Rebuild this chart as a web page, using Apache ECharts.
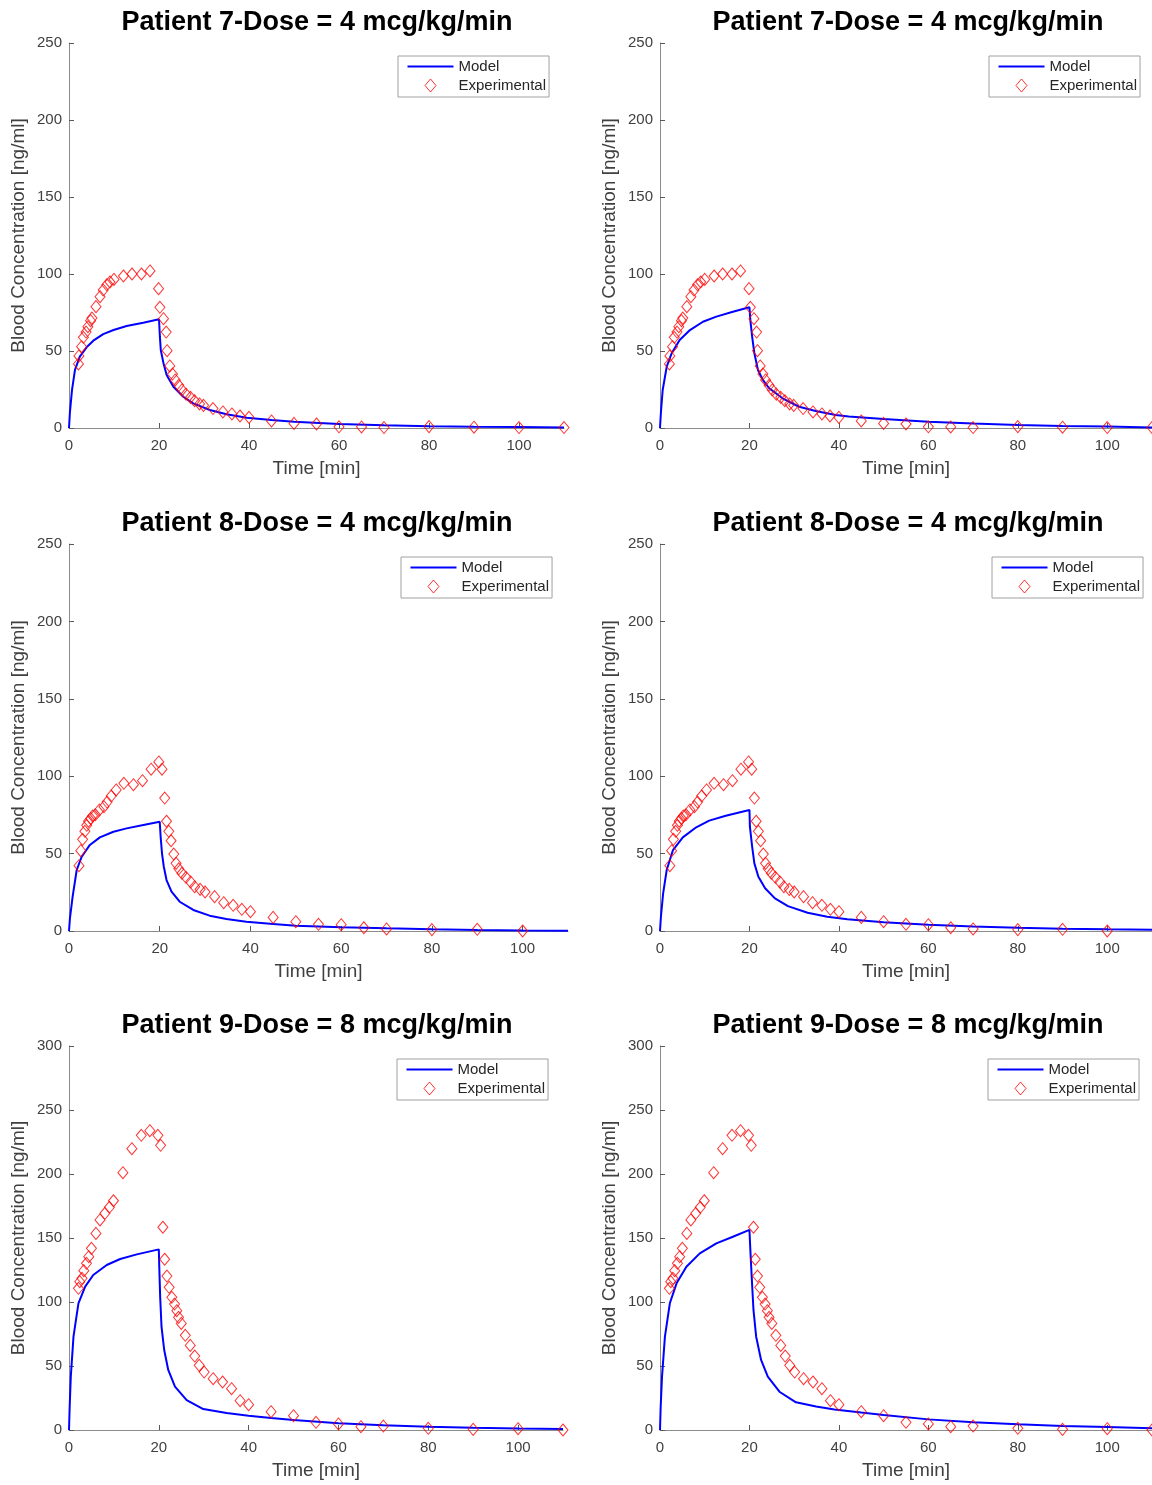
<!DOCTYPE html>
<html>
<head>
<meta charset="utf-8">
<title>Patient blood concentration</title>
<script src="https://cdn.jsdelivr.net/npm/echarts@6/dist/echarts.min.js"></script>
<style>
    html, body { margin: 0; padding: 0; background: #fff; }
    #box { width: 1152px; height: 1485px; }
</style>
</head>
<body>
<div id="box"></div>
<script>
// experimental samples (same for both columns of a row)
var p7Time = [2.1, 2.2, 2.8, 3.2, 3.8, 4.2, 4.8, 5.1, 6.0, 6.9, 7.6, 8.4, 9.1, 10.0, 12.1, 14.0, 16.1, 18.0, 19.9, 20.2, 21.0, 21.6, 21.8, 22.4, 23.0, 23.6, 24.4, 25.1, 26.0, 27.0, 27.9, 29.0, 29.9, 32.0, 34.2, 36.2, 38.0, 40.0, 45, 50, 55, 60, 65, 70, 80, 90, 100, 110];
var p7Conc = [41.6, 46.8, 52.8, 58.9, 62.3, 65.8, 69.7, 71.4, 78.8, 85.3, 89.6, 93.0, 94.8, 96.5, 98.7, 100, 100, 102, 90.5, 78.4, 71.0, 62.3, 50.2, 40.3, 35.0, 31.2, 27.7, 24.7, 22.0, 19.9, 17.7, 15.6, 14.7, 12.6, 10.4, 9.1, 7.8, 6.9, 4.6, 3.0, 2.6, 0.8, 0.7, 0.3, 0.9, 0.5, 0.3, 0.3];

var p8Time = [2.2, 2.6, 3.0, 3.5, 3.9, 4.3, 4.8, 5.2, 5.8, 6.7, 7.7, 8.4, 9.3, 10.4, 12.1, 14.2, 16.2, 18.1, 19.8, 20.5, 21.1, 21.5, 22.0, 22.5, 23.1, 23.6, 24.2, 24.9, 25.8, 26.8, 27.7, 28.9, 30.0, 32.1, 34.1, 36.2, 38.1, 40.0, 45, 50, 55, 60, 65, 70, 80, 90, 100];
var p8Conc = [42.2, 51.9, 59.2, 64.4, 68.3, 70.9, 72.6, 74.3, 75.1, 78.2, 80.3, 83.3, 87.2, 91.1, 95.4, 94.5, 97.1, 104.5, 109.2, 104.5, 85.9, 70.9, 64.4, 58.3, 49.7, 43.7, 40.2, 37.3, 34.7, 31.7, 28.6, 26.9, 25.2, 22.2, 18.3, 16.6, 14.0, 12.5, 8.8, 6.0, 4.3, 4.1, 2.1, 1.3, 0.9, 1.1, 0];

var p9Time = [2.1, 2.4, 2.9, 3.3, 3.9, 4.4, 5.0, 6.0, 6.9, 8.0, 9.0, 9.9, 12.0, 14.0, 16.1, 18.0, 19.8, 20.4, 20.9, 21.3, 21.8, 22.3, 22.9, 23.5, 24.0, 24.4, 25.0, 25.9, 27.0, 28.0, 29.0, 30.1, 32.1, 34.2, 36.2, 38.1, 40.0, 45, 50, 55, 60, 65, 70, 80, 90, 100, 110];
var p9Conc = [110.7, 115.9, 118.5, 124.5, 130.2, 135.4, 141.9, 153.6, 164.1, 169.3, 174, 179.1, 201, 219.8, 230.2, 233.8, 230.2, 222.4, 158.4, 133.4, 120.3, 111.5, 103.7, 98.4, 93.2, 88, 83.3, 74, 66.1, 57.8, 50.5, 45.3, 40.1, 37.5, 32.3, 22.9, 19.8, 14.3, 11.2, 6, 4.7, 2.6, 3.1, 1.3, 0.5, 1, 0];

// model curves, left column
var m7aTime = [0, 0.2, 0.67, 1.33, 2.4, 3.9, 5.4, 7.6, 9.9, 12.8, 16.5, 20, 20.2, 20.4, 21, 21.7, 23.2, 25.4, 27.6, 31.3, 35, 39.5, 45, 50, 60, 70, 80, 90, 100, 110];
var m7aConc = [0, 10, 24.7, 37.7, 46.3, 52.4, 56.7, 61, 63.6, 66.2, 68.4, 70.6, 59.3, 50.6, 42, 34.4, 26.8, 20.3, 16, 11.7, 8.9, 6.7, 5.2, 4, 2.6, 1.8, 1.2, 0.8, 0.6, 0.4];
var m8aTime = [0, 0.2, 0.8, 1.7, 2.8, 4.6, 6.8, 9.8, 12.7, 16.4, 20, 20.2, 20.5, 20.9, 21.5, 22.6, 24.4, 27.4, 31, 34.7, 39.1, 45, 50, 60, 70, 80, 90, 100, 110];
var m8aConc = [0, 8, 22.2, 39.4, 48, 55.6, 60.5, 64.1, 66.3, 68.5, 70.6, 60.9, 50.2, 41.5, 32.9, 25.4, 18.9, 13.6, 9.9, 7.8, 6, 4.6, 3.4, 2.4, 1.7, 1.1, 0.7, 0.4, 0.2];
var m9aTime = [0, 0.15, 0.4, 1, 2.1, 3.6, 5.4, 8.4, 11.4, 15.1, 20, 20.1, 20.3, 20.6, 21.2, 22.1, 23.6, 26.2, 29.9, 35.1, 40, 45, 50, 60, 70, 80, 90, 100, 110];
var m9aConc = [0, 18, 41.7, 72.9, 99, 112, 121.1, 128.9, 133.6, 137.2, 141.1, 127.6, 104.1, 80.7, 62.5, 46.9, 33.9, 23.4, 16.4, 13.2, 11.2, 9.4, 7.8, 5.2, 3.8, 2.6, 1.8, 1.2, 0.8];

// model curves, right column
var m7bTime = [0, 0.2, 0.6, 1.5, 2.6, 4.4, 6.7, 9.6, 12.6, 16.3, 20, 20.2, 20.6, 21.1, 21.9, 23, 24.4, 27.4, 31.1, 34.8, 39.3, 42.2, 50, 60, 70, 80, 90, 100, 110];
var m7bConc = [0, 10, 24.7, 39.8, 48.5, 57.1, 63.6, 69, 72.3, 75.5, 78.4, 70.1, 59.3, 48.5, 37.7, 31.2, 25.8, 19.3, 13.8, 11, 8.4, 7.4, 5.8, 4.1, 2.9, 1.9, 1.3, 0.9, 0.4];
var m8bTime = [0, 0.2, 0.7, 1.5, 2.9, 5.1, 8.1, 11, 14.7, 20, 20.1, 20.6, 21.1, 22, 23.5, 25.7, 28.6, 33, 37.4, 41.9, 50, 60, 70, 80, 90, 100, 110];
var m8bConc = [0, 9, 24.3, 39.4, 52.3, 60.5, 67, 71.3, 74.5, 78.2, 67.4, 54.5, 43.7, 35.1, 27.6, 21.1, 16.1, 11.8, 9.2, 7.6, 5.6, 4, 2.9, 2.1, 1.5, 1.1, 0.8];
var m9bTime = [0, 0.15, 0.45, 1.1, 2.2, 3.7, 5.9, 8.9, 12.6, 16.3, 20, 20.2, 20.5, 20.9, 21.5, 22.6, 24.1, 26.7, 30.4, 34.9, 39, 45, 50, 60, 70, 80, 90, 100, 110];
var m9bConc = [0, 18, 41.7, 72.9, 99, 114.6, 127.6, 138, 145.8, 151, 156.3, 140.6, 119.8, 93.8, 72.9, 54.7, 41.7, 29.9, 21.6, 18.3, 16, 13.6, 11.7, 8.3, 6.1, 4.4, 3.2, 2.3, 1.3];

var titles = ['Patient 7-Dose = 4 mcg/kg/min', 'Patient 7-Dose = 4 mcg/kg/min',
    'Patient 8-Dose = 4 mcg/kg/min', 'Patient 8-Dose = 4 mcg/kg/min',
    'Patient 9-Dose = 8 mcg/kg/min', 'Patient 9-Dose = 8 mcg/kg/min'];
var xTicks = [0, 20, 40, 60, 80, 100];
var yMax = [250, 250, 250, 250, 300, 300];

var expTime = [p7Time, p7Time, p8Time, p8Time, p9Time, p9Time];
var expConc = [p7Conc, p7Conc, p8Conc, p8Conc, p9Conc, p9Conc];
var modTime = [m7aTime, m7bTime, m8aTime, m8bTime, m9aTime, m9bTime];
var modConc = [m7aConc, m7bConc, m8aConc, m8bConc, m9aConc, m9bConc];

// panel boxes [left, top, width, height]
var boxes = [
    [69, 43, 495, 385], [660, 43, 495, 385],
    [69, 544, 499, 387], [660, 544, 499, 387],
    [69, 1046, 494, 384], [660, 1046, 494, 384]
];
var legendPos = [[398, 56], [989, 56], [401, 557], [992, 557], [397, 1059], [988, 1059]];

var FONT = '"Liberation Sans", Arial, sans-serif';
// legend icons: thin line, and a diamond padded out to the icon width
var LINE_ICON = 'path://M0,0L46,0L46,2L0,2Z';
var DIAMOND_ICON = 'path://M0,6.5L0,6.5M46,6.5L46,6.5M23,0L28.5,6.5L23,13L17.5,6.5Z';

function pairs(t, v) {
    var out = [];
    for (var i = 0; i < t.length; i++) {
        out.push([t[i], v[i]]);
    }
    return out;
}

function initChart() {
    var dom = document.getElementById('box');
    var myChart = echarts.init(dom, null, { renderer: 'canvas' });
    var grid = [], xAxis = [], yAxis = [], series = [], title = [], legend = [];

    for (var i = 0; i < 6; i++) {
        var b = boxes[i];
        grid.push({ left: b[0], top: b[1], width: b[2], height: b[3] });
        title.push({
            text: titles[i],
            left: b[0] + 243,
            top: b[1] - 39,
            textAlign: 'center',
            textStyle: { fontFamily: FONT, fontSize: 27, fontWeight: 'bold', color: '#000' }
        });
        xAxis.push({
            type: 'value',
            gridIndex: i,
            min: 0,
            max: 110,
            name: 'Time [min]',
            nameLocation: 'middle',
            nameGap: 31,
            nameTextStyle: { fontFamily: FONT, fontSize: 19, color: '#404040' },
            axisLine: { show: true, onZero: false, lineStyle: { color: '#8c8c8c', width: 1 } },
            axisTick: { show: true, inside: true, length: 5, customValues: xTicks, lineStyle: { color: '#595959' } },
            axisLabel: { customValues: xTicks, fontFamily: FONT, fontSize: 15, color: '#404040', margin: 10 },
            splitLine: { show: false }
        });
        yAxis.push({
            type: 'value',
            gridIndex: i,
            min: 0,
            max: yMax[i],
            interval: 50,
            name: 'Blood Concentration [ng/ml]',
            nameLocation: 'middle',
            nameGap: 41,
            nameTextStyle: { fontFamily: FONT, fontSize: 19, color: '#404040' },
            axisLine: { show: true, lineStyle: { color: '#8c8c8c', width: 1 } },
            axisTick: { show: true, inside: true, length: 5, lineStyle: { color: '#595959' } },
            axisLabel: { fontFamily: FONT, fontSize: 15, color: '#404040', margin: 7 },
            splitLine: { show: false }
        });
        series.push({
            name: 'Model',
            type: 'line',
            xAxisIndex: i,
            yAxisIndex: i,
            data: pairs(modTime[i], modConc[i]),
            symbol: 'none',
            smooth: false,
            lineStyle: { color: '#0000ff', width: 2 },
            itemStyle: { color: '#0000ff' },
            z: 2
        });
        series.push({
            name: 'Experimental',
            type: 'scatter',
            xAxisIndex: i,
            yAxisIndex: i,
            data: pairs(expTime[i], expConc[i]),
            symbol: 'diamond',
            symbolSize: [10, 12],
            itemStyle: { color: 'rgba(0,0,0,0)', borderColor: '#ff0000', borderWidth: 1 },
            z: 3
        });
        legend.push({
            left: legendPos[i][0],
            top: legendPos[i][1],
            orient: 'vertical',
            backgroundColor: '#fff',
            borderColor: '#a0a0a0',
            borderWidth: 1,
            borderRadius: 0,
            padding: [3, 3, 4, 9],
            itemGap: 4,
            itemWidth: 46,
            itemHeight: 13,
            selectedMode: false,
            textStyle: { fontFamily: FONT, fontSize: 15, color: '#262626' },
            data: [
                { name: 'Model', icon: LINE_ICON, itemStyle: { color: '#0000ff' } },
                { name: 'Experimental', icon: DIAMOND_ICON, itemStyle: { color: 'rgba(0,0,0,0)', borderColor: '#ff0000', borderWidth: 1 } }
            ]
        });
    }

    var option = {
        backgroundColor: '#fff',
        animation: false,
        title: title,
        legend: legend,
        grid: grid,
        xAxis: xAxis,
        yAxis: yAxis,
        series: series
    };
    myChart.setOption(option, true);
}

initChart();
</script>
</body>
</html>
